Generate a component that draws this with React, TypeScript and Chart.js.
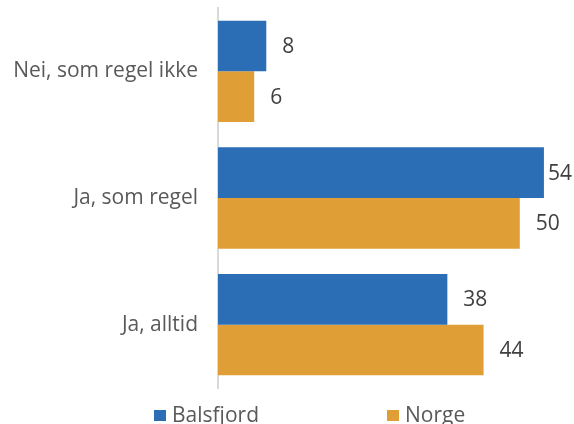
import React, { useEffect, useRef } from "react";
import { Chart, registerables } from "chart.js";

Chart.register(...registerables);

const categories = ["Nei, som regel ikke", "Ja, som regel", "Ja, alltid"];
const seriesNames = ["Balsfjord", "Norge"];
const balsfjord = [8, 54, 38];
const norge = [6, 50, 44];
const colors = ["#2C6EB5", "#DF9E36"];

const FONT = "'Open Sans', 'Noto Sans', sans-serif";

const valueLabels = {
  id: "valueLabels",
  afterDatasetsDraw(chart: any) {
    const ctx = chart.ctx;
    ctx.save();
    ctx.font = `21px ${FONT}`;
    ctx.fillStyle = "#404040";
    ctx.textAlign = "left";
    ctx.textBaseline = "middle";
    chart.data.datasets.forEach((ds: any, di: number) => {
      const meta = chart.getDatasetMeta(di);
      meta.data.forEach((bar: any, i: number) => {
        const text = String(ds.data[i]);
        const w = ctx.measureText(text).width;
        let x = bar.x + 16;
        if (x + w > chart.width - 2) x = chart.width - 2 - w;
        ctx.fillText(text, x, bar.y + 1);
      });
    });
    ctx.restore();
  },
};

const customLegend = {
  id: "customLegend",
  afterDraw(chart: any) {
    const ctx = chart.ctx;
    const starts = [154, 387];
    ctx.save();
    ctx.font = `21px ${FONT}`;
    ctx.textBaseline = "alphabetic";
    ctx.textAlign = "left";
    chart.data.datasets.forEach((ds: any, i: number) => {
      const x = starts[i];
      ctx.fillStyle = ds.backgroundColor;
      ctx.fillRect(x, 410, 12, 11);
      ctx.fillStyle = "#595959";
      ctx.fillText(ds.label, x + 18, 422);
    });
    ctx.restore();
  },
};

export default function App() {
  const ref = useRef<HTMLCanvasElement>(null);
  useEffect(() => {
    document.body.style.margin = "0";
    document.body.style.overflow = "hidden";
    const chart = new Chart(ref.current!, {
      type: "bar",
      data: {
        labels: categories,
        datasets: [
          { label: seriesNames[0], data: balsfjord, backgroundColor: colors[0] },
          { label: seriesNames[1], data: norge, backgroundColor: colors[1] },
        ],
      },
      options: {
        indexAxis: "y",
        responsive: false,
        animation: false,
        layout: { padding: { top: 8, bottom: 36, left: 0, right: 18 } },
        datasets: { bar: { categoryPercentage: 0.8, barPercentage: 1.0 } },
        plugins: { legend: { display: false }, tooltip: { enabled: false } },
        scales: {
          x: { display: false, min: 0, max: 56 },
          y: {
            grid: { display: false, drawTicks: false },
            border: { display: true, color: "#D9D9D9", width: 2 },
            ticks: { padding: 20, color: "#595959", font: { family: FONT, size: 21 } },
            afterFit(scale: any) {
              scale.width = 218;
              scale.paddingTop = 0;
              scale.paddingBottom = 0;
            },
          },
        },
      },
      plugins: [valueLabels, customLegend],
    });
    return () => chart.destroy();
  }, []);
  return <canvas ref={ref} width={574} height={424} style={{ display: "block" }} />;
}
